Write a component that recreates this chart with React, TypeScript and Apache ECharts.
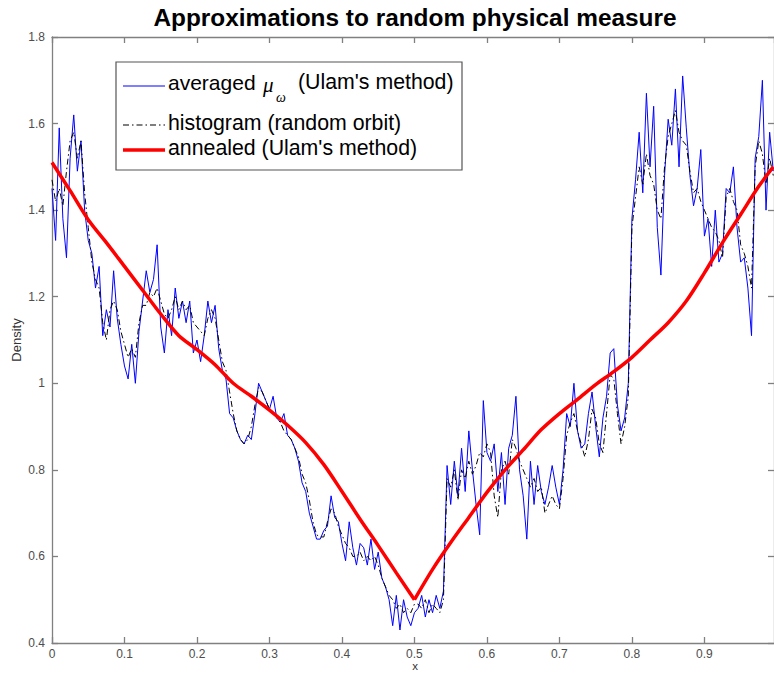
import React, { useEffect, useRef } from "react";
import * as echarts from "echarts";

// Sampling grid of the noisy series (x = index * X_STEP, 0 .. 0.995)
const X_STEP = 0.005;

// averaged mu_omega (Ulam's method) – blue
const BLUE_AVERAGED = [
  1.45, 1.33, 1.59, 1.38, 1.29, 1.52, 1.62, 1.49, 1.56, 1.40,
  1.33, 1.30, 1.22, 1.27, 1.11, 1.17, 1.13, 1.26, 1.15, 1.09,
  1.04, 1.01, 1.09, 1.00, 1.12, 1.19, 1.26, 1.21, 1.24, 1.32,
  1.13, 1.07, 1.17, 1.11, 1.22, 1.15, 1.19, 1.14, 1.19, 1.07,
  1.10, 1.05, 1.11, 1.19, 1.14, 1.18, 1.08, 1.03, 1.01, 0.93,
  0.92, 0.89, 0.87, 0.86, 0.88, 0.87, 0.93, 1.00, 0.98, 0.96,
  0.94, 0.97, 0.92, 0.91, 0.93, 0.88, 0.87, 0.85, 0.82, 0.77,
  0.75, 0.70, 0.67, 0.64, 0.64, 0.66, 0.67, 0.74, 0.69, 0.68,
  0.63, 0.59, 0.68, 0.62, 0.58, 0.63, 0.62, 0.58, 0.64, 0.57,
  0.61, 0.55, 0.53, 0.50, 0.44, 0.51, 0.43, 0.50, 0.46, 0.44,
  0.47, 0.48, 0.51, 0.46, 0.50, 0.47, 0.51, 0.48, 0.52, 0.81,
  0.72, 0.82, 0.74, 0.85, 0.75, 0.89, 0.80, 0.72, 0.65, 0.96,
  0.84, 0.82, 0.86, 0.75, 0.84, 0.72, 0.85, 0.88, 0.97, 0.80,
  0.74, 0.64, 0.82, 0.72, 0.81, 0.75, 0.72, 0.76, 0.81, 0.76,
  0.72, 0.80, 0.93, 0.90, 1.00, 0.89, 0.85, 0.86, 0.93, 0.98,
  0.90, 0.83, 0.92, 0.97, 1.07, 1.08, 0.95, 0.89, 0.92, 1.00,
  1.38, 1.47, 1.58, 1.44, 1.67, 1.50, 1.64, 1.36, 1.25, 1.48,
  1.61, 1.55, 1.68, 1.50, 1.71, 1.59, 1.48, 1.41, 1.45, 1.54,
  1.34, 1.38, 1.27, 1.40, 1.28, 1.30, 1.45, 1.44, 1.50, 1.36,
  1.28, 1.29, 1.22, 1.11, 1.52, 1.57, 1.70, 1.40, 1.58, 1.49,
];

// histogram (random orbit) – black dash-dot
const BLACK_HISTOGRAM = [
  1.47, 1.42, 1.45, 1.41, 1.49, 1.56, 1.58, 1.52, 1.56, 1.44,
  1.36, 1.28, 1.24, 1.22, 1.14, 1.10, 1.17, 1.19, 1.17, 1.12,
  1.09, 1.06, 1.08, 1.06, 1.14, 1.18, 1.18, 1.21, 1.20, 1.22,
  1.19, 1.16, 1.15, 1.17, 1.20, 1.17, 1.19, 1.17, 1.18, 1.14,
  1.13, 1.12, 1.11, 1.15, 1.17, 1.15, 1.10, 1.05, 1.03, 0.98,
  0.93, 0.89, 0.87, 0.86, 0.87, 0.90, 0.95, 0.99, 0.98, 0.96,
  0.94, 0.93, 0.92, 0.91, 0.89, 0.88, 0.87, 0.85, 0.83, 0.79,
  0.77, 0.73, 0.68, 0.65, 0.645, 0.645, 0.68, 0.71, 0.70, 0.67,
  0.65, 0.63, 0.62, 0.60, 0.60, 0.61, 0.59, 0.60, 0.59, 0.60,
  0.58, 0.55, 0.53, 0.51, 0.50, 0.48, 0.49, 0.47, 0.48, 0.47,
  0.49, 0.49, 0.48, 0.50, 0.47, 0.49, 0.48, 0.47, 0.50, 0.78,
  0.76, 0.80, 0.73, 0.80, 0.78, 0.82, 0.79, 0.81, 0.84, 0.83,
  0.86, 0.84, 0.74, 0.69, 0.80, 0.82, 0.79, 0.87, 0.85, 0.82,
  0.80, 0.78, 0.76, 0.78, 0.75, 0.76, 0.70, 0.72, 0.74, 0.72,
  0.71, 0.78, 0.88, 0.91, 0.93, 0.89, 0.86, 0.83, 0.87, 0.94,
  0.92, 0.86, 0.84, 0.93, 1.02, 1.01, 0.93, 0.86, 0.90, 0.97,
  1.36, 1.43, 1.50, 1.46, 1.53, 1.48, 1.46, 1.40, 1.38, 1.50,
  1.57, 1.60, 1.63, 1.58, 1.56, 1.55, 1.49, 1.44, 1.45, 1.42,
  1.40, 1.38, 1.36, 1.35, 1.33, 1.29, 1.43, 1.45, 1.42, 1.40,
  1.32, 1.30, 1.27, 1.22, 1.50, 1.56, 1.53, 1.46, 1.52, 1.48,
];

// annealed (Ulam's method) – red; the curve has its minimum (a sharp V) at x = 0.5
const RED_X = [
  0, 0.025, 0.05, 0.075, 0.1, 0.125, 0.15, 0.175, 0.2, 0.225,
  0.25, 0.275, 0.3, 0.325, 0.35, 0.375, 0.4, 0.425, 0.45, 0.475,
  0.5, 0.525, 0.55, 0.575, 0.6, 0.625, 0.65, 0.675, 0.7, 0.725,
  0.75, 0.775, 0.8, 0.825, 0.85, 0.875, 0.9, 0.925, 0.95, 0.975, 0.995,
];
const RED_ANNEALED = [
  1.51, 1.445, 1.378, 1.325, 1.27, 1.215, 1.16, 1.11, 1.078, 1.043,
  1.0, 0.97, 0.938, 0.903, 0.863, 0.812, 0.75, 0.686, 0.625, 0.562,
  0.5, 0.57, 0.632, 0.69, 0.748, 0.8, 0.846, 0.893, 0.93, 0.963,
  0.997, 1.027, 1.06, 1.1, 1.14, 1.19, 1.255, 1.325, 1.39, 1.455, 1.5,
];
const RED_MIN_INDEX = 20;

const TITLE = "Approximations to random physical measure";
const X_LABEL = "x";
const Y_LABEL = "Density";

const AXIS_GRAY = "#808080";
const LABEL_GRAY = "#4d4d4d";
const FONT = "Liberation Sans, Arial, sans-serif";

export default function App() {
  const ref = useRef<HTMLDivElement>(null);

  useEffect(() => {
    if (!ref.current) return;
    const chart = echarts.init(ref.current, undefined, { renderer: "svg" });

    const xCommon = {
      type: "value" as const,
      min: 0,
      max: 0.996,
      interval: 0.1,
      splitLine: { show: false },
      axisLine: { show: true, onZero: false, lineStyle: { color: AXIS_GRAY, width: 1.3 } },
      axisTick: { show: true, inside: true, length: 6, lineStyle: { color: AXIS_GRAY, width: 1.3 } },
    };
    const yCommon = {
      type: "value" as const,
      min: 0.4,
      max: 1.8,
      interval: 0.2,
      splitLine: { show: false },
      axisLine: { show: true, onZero: false, lineStyle: { color: AXIS_GRAY, width: 1.3 } },
      axisTick: { show: true, inside: true, length: 6, lineStyle: { color: AXIS_GRAY, width: 1.3 } },
    };

    const textStyle = (size: number, extra: any = {}) => ({
      fontSize: size,
      fontFamily: FONT,
      fill: "#000",
      textAlign: "left",
      textVerticalAlign: "middle",
      align: "left",
      verticalAlign: "middle",
      ...extra,
    });

    const redPoints = RED_X.map((x, i) => [x, RED_ANNEALED[i]]);
    const redStyle = { color: "#ff0000", width: 3.5 };

    chart.setOption({
      animation: false,
      backgroundColor: "#ffffff",
      grid: { left: 52, top: 37, width: 724, height: 606, containLabel: false },
      xAxis: [
        {
          ...xCommon,
          position: "bottom",
          axisLabel: {
            color: LABEL_GRAY,
            fontSize: 12,
            fontFamily: FONT,
            margin: 5,
            showMaxLabel: false,
          },
        },
        { ...xCommon, position: "top", axisLabel: { show: false } },
      ],
      yAxis: [
        {
          ...yCommon,
          position: "left",
          axisLabel: { color: LABEL_GRAY, fontSize: 12, fontFamily: FONT, margin: 7 },
        },
        { ...yCommon, position: "right", axisLabel: { show: false } },
      ],
      series: [
        {
          name: "averaged",
          type: "line",
          xAxisIndex: 0,
          yAxisIndex: 0,
          data: BLUE_AVERAGED.map((v, i) => [i * X_STEP, v]),
          showSymbol: false,
          silent: true,
          lineStyle: { color: "#0000ff", width: 1 },
          z: 2,
        },
        {
          name: "histogram",
          type: "line",
          xAxisIndex: 0,
          yAxisIndex: 0,
          data: BLACK_HISTOGRAM.map((v, i) => [i * X_STEP, v]),
          showSymbol: false,
          silent: true,
          lineStyle: { color: "#000000", width: 1, type: [6, 3, 1.5, 3] },
          z: 3,
        },
        {
          name: "annealed-left",
          type: "line",
          xAxisIndex: 0,
          yAxisIndex: 0,
          data: redPoints.slice(0, RED_MIN_INDEX + 1),
          showSymbol: false,
          silent: true,
          smooth: 0.3,
          lineStyle: redStyle,
          z: 4,
        },
        {
          name: "annealed-right",
          type: "line",
          xAxisIndex: 0,
          yAxisIndex: 0,
          data: redPoints.slice(RED_MIN_INDEX),
          showSymbol: false,
          silent: true,
          smooth: 0.3,
          lineStyle: redStyle,
          z: 4,
        },
      ],
      graphic: [
        {
          type: "text",
          x: 415,
          y: 17,
          z: 20,
          style: textStyle(24.4, {
            text: TITLE,
            fontWeight: "bold",
            textAlign: "center",
            align: "center",
          }),
        },
        {
          type: "text",
          x: 415,
          y: 666,
          z: 20,
          style: textStyle(11.5, { text: X_LABEL, fill: "#333", textAlign: "center", align: "center" }),
        },
        {
          type: "text",
          x: 16,
          y: 340,
          rotation: Math.PI / 2,
          z: 20,
          style: textStyle(13, { text: Y_LABEL, fill: "#333", textAlign: "center", align: "center" }),
        },
        // legend box
        {
          type: "rect",
          z: 20,
          shape: { x: 116, y: 62, width: 346, height: 108 },
          style: { fill: "#ffffff", stroke: "#555555", lineWidth: 1.2 },
        },
        {
          type: "line",
          z: 21,
          shape: { x1: 123, y1: 86, x2: 165, y2: 86 },
          style: { stroke: "#0000ff", lineWidth: 1.2 },
        },
        {
          type: "line",
          z: 21,
          shape: { x1: 123, y1: 125, x2: 165, y2: 125 },
          style: { stroke: "#000000", lineWidth: 1.2, lineDash: [6, 3, 1.5, 3] },
        },
        {
          type: "line",
          z: 21,
          shape: { x1: 123, y1: 150, x2: 165, y2: 150 },
          style: { stroke: "#ff0000", lineWidth: 3.5 },
        },
        { type: "text", x: 168, y: 82, z: 21, style: textStyle(21, { text: "averaged" }) },
        {
          type: "text",
          x: 263,
          y: 85,
          z: 21,
          style: textStyle(21, { text: "μ", fontStyle: "italic", fontFamily: "Liberation Serif, serif" }),
        },
        {
          type: "text",
          x: 276,
          y: 97,
          z: 21,
          style: textStyle(14, { text: "ω", fontStyle: "italic", fontFamily: "Liberation Serif, serif" }),
        },
        { type: "text", x: 298, y: 82, z: 21, style: textStyle(21.3, { text: "(Ulam's method)" }) },
        { type: "text", x: 168, y: 123, z: 21, style: textStyle(21.3, { text: "histogram (random orbit)" }) },
        { type: "text", x: 168, y: 148, z: 21, style: textStyle(21.3, { text: "annealed (Ulam's method)" }) },
      ],
    });

    return () => chart.dispose();
  }, []);

  return (
    <div
      ref={ref}
      style={{ position: "fixed", left: 0, top: 0, width: 774, height: 673, background: "#fff" }}
    />
  );
}
